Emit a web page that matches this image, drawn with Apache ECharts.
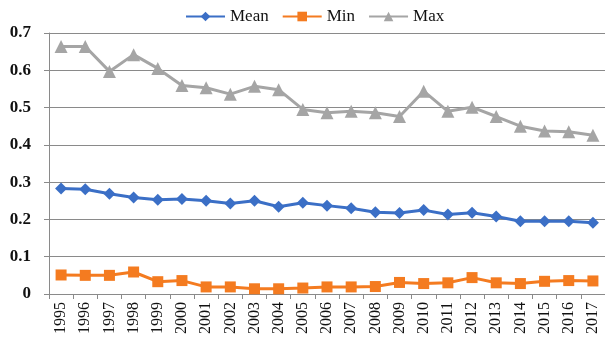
<!DOCTYPE html>
<html>
<head>
<meta charset="utf-8">
<script src="https://cdn.jsdelivr.net/npm/echarts@6/dist/echarts.min.js"></script>
<style>
  html, body { margin: 0; padding: 0; background: #fff; }
  #chart { width: 605px; height: 340px; }
</style>
</head>
<body>
<div id="chart"></div>
<script>
const years = ['1995','1996','1997','1998','1999','2000','2001','2002','2003','2004','2005','2006',
               '2007','2008','2009','2010','2011','2012','2013','2014','2015','2016','2017'];
const meanValues = [0.283,0.281,0.269,0.259,0.253,0.255,0.250,0.243,0.250,0.234,0.245,0.237,
                    0.230,0.219,0.217,0.225,0.213,0.218,0.208,0.195,0.195,0.195,0.191];
const minValues  = [0.051,0.050,0.050,0.059,0.033,0.036,0.019,0.019,0.014,0.014,0.016,0.019,
                    0.019,0.020,0.031,0.028,0.030,0.044,0.030,0.028,0.034,0.036,0.035];
const maxValues  = [0.664,0.664,0.597,0.642,0.605,0.559,0.553,0.536,0.557,0.548,0.495,0.486,
                    0.490,0.486,0.476,0.544,0.490,0.501,0.476,0.450,0.437,0.435,0.426];
const yTicks = { min: 0, max: 0.7, step: 0.1 };

const font = '"Liberation Serif", "Times New Roman", serif';
const chart = echarts.init(document.getElementById('chart'));

function lineSeries(name, data, color, symbol, size) {
  return {
    name, type: 'line', data,
    symbol, symbolSize: size,
    lineStyle: { color, width: 3 },
    itemStyle: { color },
    emphasis: { disabled: true },
    animation: false
  };
}

chart.setOption({
  animation: false,
  color: ['#3b6fc6', '#f47b20', '#a5a5a5'],
  legend: {
    top: 8, left: 185, padding: 0,
    itemWidth: 39, itemHeight: 12, itemGap: 13,
    textStyle: { fontFamily: font, fontSize: 17, color: '#111' },
    data: ['Mean', 'Min', 'Max']
  },
  grid: { left: 49, right: -5, top: 33, bottom: 46, containLabel: false },
  xAxis: {
    type: 'category', data: years, boundaryGap: true,
    axisLine: { lineStyle: { color: '#8a8a8a', width: 1 } },
    axisTick: { show: true, length: 5, lineStyle: { color: '#8a8a8a' } },
    axisLabel: { rotate: 90, interval: 0, margin: 8, fontFamily: font, fontSize: 16, color: '#111' }
  },
  yAxis: {
    type: 'value', min: yTicks.min, max: yTicks.max, interval: yTicks.step,
    axisLine: { show: true, lineStyle: { color: '#8a8a8a', width: 1 } },
    axisTick: { show: true, length: 5, lineStyle: { color: '#8a8a8a' } },
    splitLine: { lineStyle: { color: '#8a8a8a', width: 1 } },
    axisLabel: {
      margin: 18, fontFamily: font, fontSize: 17, fontWeight: 'bold', color: '#111',
      formatter: v => v === 0 ? '0' : v.toFixed(1)
    }
  },
  series: [
    lineSeries('Mean', meanValues, '#3b6fc6', 'diamond', 12),
    lineSeries('Min', minValues, '#f47b20', 'rect', 11),
    lineSeries('Max', maxValues, '#a5a5a5', 'triangle', 13)
  ]
});
</script>
</body>
</html>
